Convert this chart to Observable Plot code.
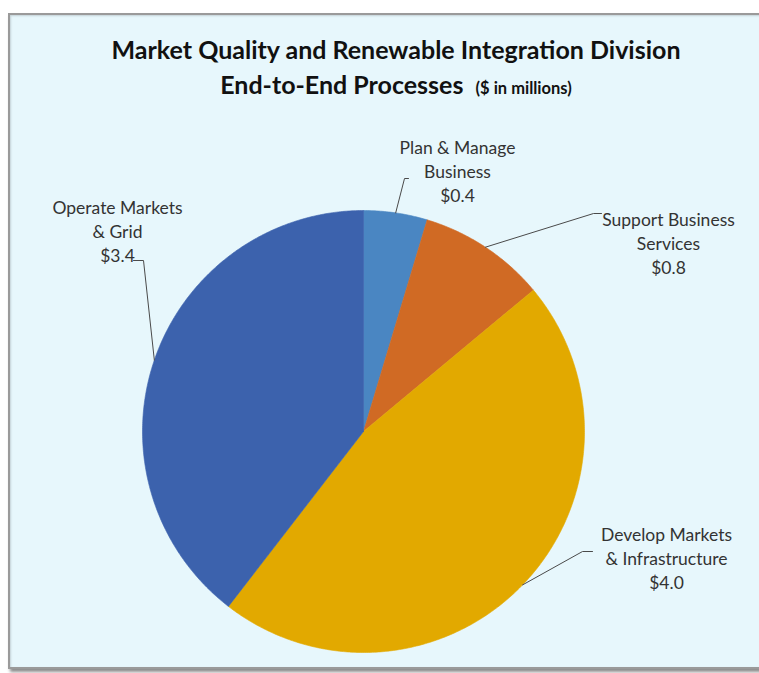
<!DOCTYPE html>
<html>
<head>
<meta charset="utf-8">
<script src="https://cdn.jsdelivr.net/npm/d3@7"></script>
<script src="https://cdn.jsdelivr.net/npm/@observablehq/plot@0.6"></script>
<style>
  html, body { margin: 0; padding: 0; background: #ffffff; }
  body { width: 759px; height: 673px; position: relative; overflow: hidden; font-family: Lato, "Open Sans", sans-serif; }
  #frame {
    position: absolute; left: 8px; top: 13px; width: 770px; height: 652px;
    background: #e7f7fc;
    border: 2px solid #9a9a9a;
    box-shadow: 2px 3px 3px rgba(0,0,0,0.45), inset 1px 1px 2px rgba(0,0,0,0.15);
  }
  #title {
    position: absolute; left: 0; top: 32px; width: 792px; text-align: center;
    font-family: Lato, "Open Sans", sans-serif; font-weight: bold; color: #111;
    font-size: 25px; line-height: 35px;
  }
  #title .small { font-size: 16.5px; }
  #chart { position: absolute; left: 0; top: 0; }
</style>
</head>
<body>
<div id="frame"></div>
<div id="title">Market Quality and Renewable Integration Division<br>End-to-End Processes&nbsp;&nbsp;<span class="small">($ in millions)</span></div>
<div id="chart"></div>
<script>
// ---- data ----
const categories = ["Plan & Manage Business", "Support Business Services", "Develop Markets & Infrastructure", "Operate Markets & Grid"];
const values = [0.4, 0.8, 4.0, 3.4];
const labelLines = [["Plan & Manage", "Business"], ["Support Business", "Services"], ["Develop Markets", "& Infrastructure"], ["Operate Markets", "& Grid"]];
const colors = ["#4a86c2", "#d06a24", "#e2a900", "#3c62ad"];

// ---- layout (pixels relative to pie centre) ----
const R = 221;
const leaderElbow = [[41, -253], [230, -218], [219, 120], [-220, -171]];
const leaderEnd = [[45, -253], [238, -218], [229, 120], [-230, -171]];
const labelPos = [[94, -261], [305, -189], [303, 126], [-246, -201]];

const pie = d3.pie().sort(null).value(d => d)(values);

const slicePts = [];
pie.forEach((p, i) => {
  slicePts.push({name: categories[i], x: 0, y: 0});
  const n = Math.max(4, Math.ceil((p.endAngle - p.startAngle) / (Math.PI / 360)));
  for (let k = 0; k <= n; k++) {
    const a = p.startAngle + (p.endAngle - p.startAngle) * k / n;
    slicePts.push({name: categories[i], x: R * Math.sin(a), y: -R * Math.cos(a)});
  }
  slicePts.push({name: categories[i], x: 0, y: 0});
});

const leaderPts = [];
pie.forEach((p, i) => {
  const a = (p.startAngle + p.endAngle) / 2;
  leaderPts.push({name: categories[i], x: R * Math.sin(a), y: -R * Math.cos(a)});
  leaderPts.push({name: categories[i], x: leaderElbow[i][0], y: leaderElbow[i][1]});
  leaderPts.push({name: categories[i], x: leaderEnd[i][0], y: leaderEnd[i][1]});
});

const labels = categories.map((c, i) => ({
  x: labelPos[i][0], y: labelPos[i][1],
  text: labelLines[i].join("\n") + "\n$" + values[i].toFixed(1)
}));

const cx = 363, cy = 431, W = 759, H = 673;
const chart = Plot.plot({
  width: W, height: H,
  margin: 0,
  style: {background: "transparent", overflow: "visible"},
  x: {domain: [-cx, W - cx], range: [0, W], axis: null},
  y: {domain: [-cy, H - cy], range: [0, H], axis: null},
  color: {domain: categories, range: colors},
  marks: [
    Plot.line(slicePts, {x: "x", y: "y", z: "name", fill: "name", stroke: "name", strokeWidth: 0.6, curve: "linear"}),
    Plot.line(leaderPts, {x: "x", y: "y", z: "name", stroke: "#4a4a4a", strokeWidth: 1, fill: "none"}),
    Plot.text(labels, {x: "x", y: "y", text: "text", textAnchor: "middle", lineAnchor: "middle",
      lineHeight: 1.35, fontSize: 17.5, fill: "#333", fontFamily: "Lato, 'Open Sans', sans-serif"})
  ]
});
document.getElementById("chart").appendChild(chart);
</script>
</body>
</html>
